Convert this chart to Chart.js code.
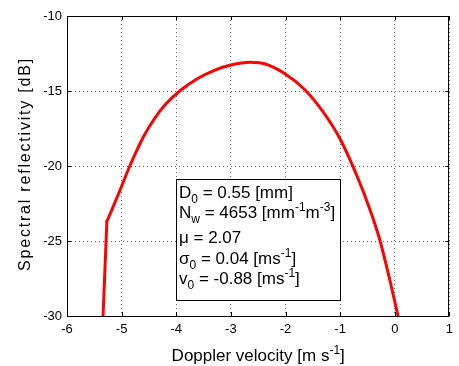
<!DOCTYPE html>
<html>
<head>
<meta charset="utf-8">
<script src="https://cdn.jsdelivr.net/npm/chart.js@4.4.1/dist/chart.umd.min.js"></script>
<style>
    html, body { margin: 0; padding: 0; background: #fff; }
    #wrap { width: 459px; height: 366px; position: relative; }
</style>
</head>
<body>
<div id="wrap"><canvas id="spectrum"></canvas></div>
<script>
// ==========================================
// DATA
// ==========================================
// steep left edge of the spectrum (straight piece up to the kink)
const edgeVelocity     = [-5.34, -5.27];
const edgeReflectivity = [-30.0, -23.7];
// main body of the spectrum, from the kink to the right end
const velocity     = [-5.27, -5.05, -4.85, -4.60, -4.40, -4.20, -3.92, -3.60, -3.30, -3.00, -2.64, -2.37, -2.01, -1.65, -1.30, -1.00, -0.67, -0.46, -0.28, -0.10, 0.06];
const reflectivity = [-23.7, -21.8, -20.0, -18.05, -16.85, -15.9, -14.95, -14.15, -13.62, -13.27, -13.09, -13.2, -13.85, -14.9, -16.45, -18.2, -20.85, -22.85, -24.85, -27.45, -30.0];
const xTicks = [-6, -5, -4, -3, -2, -1, 0, 1];
const yTicks = [-30, -25, -20, -15, -10];

// parameter box, [text, 'sub'|'sup'] pieces per line
const boxLines = [
    [['D'], ['0', 'sub'], [' = 0.55 [mm]']],
    [['N'], ['w', 'sub'], [' = 4653 [mm'], ['-1', 'sup'], ['m'], ['-3', 'sup'], [']']],
    [['\u03bc = 2.07']],
    [['\u03c3'], ['0', 'sub'], [' = 0.04 [ms'], ['-1', 'sup'], [']']],
    [['v'], ['0', 'sub'], [' = -0.88 [ms'], ['-1', 'sup'], [']']]
];
const xTitle = [['Doppler velocity [m s'], ['-1', 'sup'], [']']];
const yTitle = 'Spectral reflectivity [dB]';

const FONT = '"Liberation Sans", Arial, Helvetica, sans-serif';

// draw text with simple tex-like sub/superscripts, returns width
function drawRich(ctx, x, y, parts, size, measureOnly) {
    let cx = x;
    parts.forEach(function(p) {
        let s = p[1] ? Math.round(size * 0.72) : size;
        let dy = p[1] === 'sub' ? size * 0.32 : (p[1] === 'sup' ? -size * 0.42 : 0);
        ctx.font = s + 'px ' + FONT;
        if (!measureOnly) ctx.fillText(p[0], cx, y + dy);
        cx += ctx.measureText(p[0]).width;
    });
    return cx - x;
}

// frame, inward ticks, titles and the parameter box
const matlabAxes = {
    id: 'matlabAxes',
    afterDraw: function(chart) {
        const ctx = chart.ctx;
        const a = chart.chartArea;
        const xs = chart.scales.x, ys = chart.scales.y;
        ctx.save();

        // box around the axes
        ctx.strokeStyle = '#000';
        ctx.lineWidth = 1;
        ctx.strokeRect(Math.round(a.left) + 0.5, Math.round(a.top) + 0.5, Math.round(a.right - a.left) - 1, Math.round(a.bottom - a.top));

        // inward tick marks on all sides
        ctx.beginPath();
        xTicks.forEach(function(v) {
            let px = Math.round(xs.getPixelForValue(v)) + 0.5;
            ctx.moveTo(px, a.bottom); ctx.lineTo(px, a.bottom - 4);
            ctx.moveTo(px, a.top); ctx.lineTo(px, a.top + 4);
        });
        yTicks.forEach(function(v) {
            let py = Math.round(ys.getPixelForValue(v)) + 0.5;
            ctx.moveTo(a.left, py); ctx.lineTo(a.left + 4, py);
            ctx.moveTo(a.right, py); ctx.lineTo(a.right - 4, py);
        });
        ctx.stroke();

        // axis titles
        ctx.fillStyle = '#000';
        ctx.textBaseline = 'alphabetic';
        ctx.textAlign = 'left';
        let w = drawRich(ctx, 0, 0, xTitle, 17, true);
        drawRich(ctx, (a.left + a.right) / 2 - w / 2, 361, xTitle, 17);

        ctx.save();
        ctx.translate(30, (a.top + a.bottom) / 2 - 2);
        ctx.rotate(-Math.PI / 2);
        ctx.font = '16px ' + FONT;
        ctx.letterSpacing = '1.8px';
        ctx.textAlign = 'center';
        ctx.fillText(yTitle, 0, 0);
        ctx.restore();

        // parameter text box
        ctx.fillStyle = '#fff';
        ctx.fillRect(176, 179, 164, 122);
        ctx.strokeStyle = '#000';
        ctx.strokeRect(176.5, 179.5, 164, 121);
        ctx.fillStyle = '#000';
        const baselines = [198, 218, 243, 264, 284];
        boxLines.forEach(function(line, i) {
            drawRich(ctx, 179, baselines[i], line, 17);
        });
        ctx.restore();
    }
};

function toPoints(xs, ys) {
    return xs.map(function(v, i) { return { x: v, y: ys[i] }; });
}

const lineStyle = {
    borderColor: '#ff0000',
    borderWidth: 3,
    borderCapStyle: 'round',
    borderJoinStyle: 'round',
    pointRadius: 0,
    fill: false
};

new Chart(document.getElementById('spectrum').getContext('2d'), {
    type: 'line',
    data: {
        datasets: [
            Object.assign({ data: toPoints(edgeVelocity, edgeReflectivity), tension: 0 }, lineStyle),
            Object.assign({ data: toPoints(velocity, reflectivity), cubicInterpolationMode: 'monotone' }, lineStyle)
        ]
    },
    options: {
        responsive: true,
        maintainAspectRatio: false,
        animation: false,
        layout: { padding: { top: 16, right: 1, left: 0, bottom: 0 } },
        plugins: { legend: { display: false }, tooltip: { enabled: false } },
        scales: {
            x: {
                type: 'linear',
                min: -6, max: 1,
                afterBuildTicks: function(s) { s.ticks = xTicks.map(function(v) { return { value: v }; }); },
                afterFit: function(s) { s.height = 50; },
                grid: { color: '#666', lineWidth: 1, drawTicks: false },
                border: { display: false, dash: [1, 3] },
                ticks: { color: '#000', font: { family: FONT, size: 13 }, padding: 6, maxRotation: 0 }
            },
            y: {
                type: 'linear',
                min: -30, max: -10,
                afterBuildTicks: function(s) { s.ticks = yTicks.map(function(v) { return { value: v }; }); },
                afterFit: function(s) { s.width = 67; },
                grid: { color: '#666', lineWidth: 1, drawTicks: false },
                border: { display: false, dash: [1, 3] },
                ticks: { color: '#000', font: { family: FONT, size: 13 }, padding: 5 }
            }
        }
    },
    plugins: [matlabAxes]
});
</script>
</body>
</html>
